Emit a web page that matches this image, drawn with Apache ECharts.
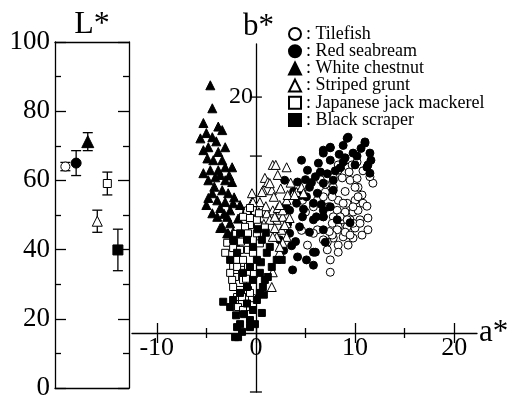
<!DOCTYPE html>
<html>
<head>
<meta charset="utf-8">
<script src="https://cdn.jsdelivr.net/npm/echarts@6/dist/echarts.min.js"></script>
<style>
  html, body { margin: 0; padding: 0; background: #fff; }
  #chart { width: 508px; height: 398px; }
</style>
</head>
<body>
<div id="chart"></div>
<script>
// species, in legend order
const species = ['Tilefish', 'Red seabream', 'White chestnut', 'Striped grunt', 'Japanese jack mackerel', 'Black scraper']

// L* panel: position along the panel, mean, and error
const lPos = [0.98, 2.0, 3.1, 4.0, 4.95, 5.95]
const lMean = [64, 65, 71.2, 48.2, 59.1, 39.9]
const lErr = [1.2, 3.6, 2.6, 3.2, 3.3, 6]

// a*, b* scatter values
const tilefish = [[8.3,8.5],[9.3,8.1],[10.2,9],[11.8,5.4],[7.8,6.4],[8.7,6.3],[9.5,5.9],[10.3,4.7],[10.7,3.4],[10,2.5],[9.2,2],[8.3,2.5],[7.7,3.1],[7,3.9],[6.2,2.5],[7.3,1.4],[8.2,0.8],[9,0.5],[9.8,0.5],[10.3,0.8],[11.3,-0.5],[10.5,-0.8],[9.5,-0.8],[8.7,-0.8],[7.8,-0.3],[6.8,-0.3],[8.3,-2],[9.2,-2],[10,-2.2],[10.7,-3.4],[9.8,-3.9],[8.8,-3.7],[7.8,-3.9],[7.2,-4.6],[8.3,-5.1],[9.3,-5.1],[6.2,-2.5],[5.2,-5.1],[7.2,-5.9],[8.3,-6.3],[7.5,-7.6],[4.7,2.5],[7.5,-9.7],[5.8,-3.1],[9.4,7.3],[8.3,7.6],[7.8,4.7],[10,4.7],[10.3,3.1],[8.8,2],[6.8,3.1],[5.8,1.4],[9.8,1.4],[8.5,-0.3],[9.2,-0.8],[9.8,-1.4],[10.5,-1.4],[7.7,-1.4],[8.2,-2.5],[9,-2.9],[9.5,-3.4],[7.7,-3.4],[6.8,-4.2],[6.5,6],[7,5.2],[9,4],[10.8,2],[11.5,6.5],[10.8,7.5],[9.7,8.5],[11.2,1.5],[4.6,-2.6],[5,0.5],[11.3,-2.5],[10.2,6.2],[7.4,-2.8]]
const redSeabream = [[9.3,13.2],[11,12.4],[7.5,11.4],[6.8,10.5],[9.8,10.5],[11.5,10.5],[4.6,9.3],[9,9.7],[7.5,9.3],[6.3,8.8],[5.2,7.6],[6.5,7.3],[8.5,8],[11.2,8.1],[11.5,7.1],[2.9,5.9],[4.2,5.6],[5.4,4.7],[6.8,5.4],[7.8,5.9],[6.2,3.7],[5.1,3.1],[4.1,2],[3.4,0.8],[5.8,2],[6.8,0.8],[7.5,1.4],[4.7,-0.3],[5.8,-0.8],[6.8,-0.3],[4.4,-2],[5.4,-2.9],[3.4,-3.1],[2.4,-4.2],[7,-4.6],[5.8,-6.3],[4.2,-7.1],[5.1,-7.6],[3.7,-9.3],[6,-6.3],[5.8,-8.5],[6.8,11],[7.5,11.5],[9.2,13],[11,12.2],[11.3,8.5],[8.2,-0.8],[9.5,-1.3],[6.1,-0.3],[6.8,-2.5],[3,1.5],[3.8,4],[5,6],[6,6.5],[7.2,7],[8,7.5],[8.8,9],[10.2,10],[10.6,11.3],[7.8,4.2],[6.6,1.8],[4.8,1],[3.2,-1.5],[4,-4.5],[2.8,-6],[8.8,11.8],[10,8.5],[11.6,9.3],[4.5,3.3],[5.6,5.5],[8.4,10.3],[3.6,-5.2]]
const whiteChestnut = [[-4.6,22],[-4.4,18.1],[-5.3,15.6],[-5,13.9],[-3.8,15],[-3.4,14.4],[-4.4,13.2],[-4.8,11.5],[-5.3,11],[-3.1,11.5],[-3.8,10.7],[-4.3,9.3],[-3.4,9.3],[-2.4,8.1],[-5.3,7.1],[-4.6,7.6],[-3.8,7.6],[-3.1,8.1],[-4.1,6.4],[-3.1,5.9],[-2.4,5.6],[-4.8,5.9],[-4.4,3.7],[-3.4,4.2],[-2.8,3.7],[-4.8,2.9],[-3.9,2.5],[-3.1,2.2],[-2.3,2],[-3.6,1.2],[-2.6,0.8],[-1.6,1.7],[-3.9,-0.3],[-2.9,-0.3],[-3.4,-2],[-2.6,-1.4],[-2.9,-3.1],[-2.3,-2.9],[-4.4,0.3],[-3.6,-2.2],[-2.8,-3.1],[-2.4,-4.2],[-5,1.7],[-4,12.5],[-3.6,6.8],[-4.2,4.8],[-2.2,3],[-1.8,-0.6],[-1.2,-2.5],[-2,-4.8],[-3.2,0.2],[-5.6,13],[-4.9,9.6],[-2.7,6.7]]
const stripedGrunt = [[1.7,8.5],[2,8.5],[3.1,8.1],[0.9,6.3],[1.2,5.6],[0.7,4.2],[1.6,4.2],[-0.4,3.7],[1.8,3.1],[0.4,2.2],[-0.4,2.2],[4.1,3.9],[4.6,4.7],[3.7,3.4],[3.1,2.5],[2.4,1.2],[1.7,0.8],[1.1,0.3],[2.7,-0.3],[2.1,-0.8],[1.4,-0.8],[3.1,-1.4],[2.6,-2.5],[3.1,-3.7],[2.1,-3.7],[2.7,-4.7],[2.4,-6.3],[1.7,-9.7],[1.6,-12.2],[3.2,3.4],[3.9,3.4],[2.2,1.2],[2.7,0.8],[4.8,3.7],[1.9,-0.3],[2.9,-1.7],[1.7,-3.7],[2.4,-5.4],[0.6,3.9],[1.4,5.4],[-0.3,2.2],[2.4,1.7],[2.5,4.5],[3.5,5.5],[1,1.5],[0.3,0.5],[3.4,-0.5],[1.9,-2.2],[0.8,-1.5],[2.2,6.8]]
const jackMackerel = [[-0.6,1.2],[-1.3,-0.3],[-0.6,-1.7],[0.2,-1.7],[0.9,-2.2],[0.1,-3.1],[-0.9,-3.7],[-2.9,-4.7],[-3.1,-6.4],[-2.3,-5.6],[-1.6,-5.9],[-0.8,-5.9],[-0.3,-6.4],[-1.9,-7.6],[-1.3,-7.6],[-2.3,-8.8],[-1.4,-9.3],[-0.8,-8.8],[-2.1,-10.5],[-1.3,-11],[-2.3,-12.2],[-1.6,-12.7],[-0.8,-12.7],[-1.9,-13.9],[-0.4,-14.1],[-1.4,-14.9],[-0.9,-15.6],[-1.1,-2],[0.1,-0.8],[0.9,-2.1],[-0.6,-0.5],[-0.8,-3.1],[-1.9,-8.8],[-2.4,-11],[-1.4,-13.9],[-0.6,-13.2],[-1.8,-15.6],[-1.3,-16.1],[0.3,0.3],[-2,-3.2],[-1.5,-4.5],[0.4,-4.8],[-0.2,-10],[-2.6,-9.8],[-1,-10.8]]
const blackScraper = [[0.6,-16.6],[-3.3,-14.7],[2.6,-7.6],[0.9,-11],[-1.9,-19],[-1.8,-20.7],[-1.4,-19.8],[-0.6,-17.8],[-0.3,-16.1],[0.1,-14.4],[0.4,-13.2],[0.7,-12.2],[1.2,-10.5],[1.6,-8.8],[2.1,-7.6],[0.4,-9.8],[-0.3,-11],[-0.9,-12.2],[-1.6,-13.2],[-2.3,-14.4],[-2.6,-15.6],[0.1,-7.6],[-0.6,-8.8],[-1.3,-9.8],[-1.9,-6.4],[-2.6,-7.6],[-0.3,-5.4],[0.6,-4.2],[1.4,-5.4],[1.1,-6.4],[-0.9,-4.2],[-1.6,-3.1],[-2.3,-4.2],[-2.1,-20.7],[-1.6,-18.5],[-0.6,-19],[-0.9,-15],[0.8,-13.5],[1,-3],[0.2,-2.4],[-1.2,-16.8],[-0.1,-18.5],[0.5,-8],[-2,-17]]
const scatterData = [tilefish, redSeabream, whiteChestnut, stripedGrunt, jackMackerel, blackScraper]

// tick values
const aTicks = [-10, 0, 10, 20]
const aMinorTicks = [-5, 5, 15]
const bTicks = [-30, -10, 0, 10, 20]
const bLabels = [0, 20]

const font = 'Liberation Serif'
const marks = [
    { symbol: 'circle', fill: '#fff', size: 8, lSize: 9 },
    { symbol: 'circle', fill: '#000', size: 8, lSize: 10 },
    { symbol: 'triangle', fill: '#000', size: 9, lSize: 12 },
    { symbol: 'triangle', fill: '#fff', size: 9, lSize: 10 },
    { symbol: 'rect', fill: '#fff', size: 7, lSize: 8 },
    { symbol: 'rect', fill: '#000', size: 7, lSize: 10 }
]

const noLine = { show: false }
const black = '#000'

function hiddenAxis (gridIndex, min, max) {
    return { type: 'value', gridIndex, min, max, show: false, splitLine: noLine }
}

function aAxis (values, len, inside, withLabel) {
    return {
        type: 'value', gridIndex: 2, min: -12.5, max: 22.3, position: 'bottom',
        axisLine: { show: withLabel, onZero: false, lineStyle: { color: black, width: 1.3 } },
        axisTick: { show: true, inside, length: len, customValues: values, lineStyle: { color: black, width: 1.3 } },
        axisLabel: { show: withLabel, customValues: values, color: black, fontFamily: font, fontSize: 26, margin: 2 },
        splitLine: noLine,
        name: withLabel ? 'a*' : '',
        nameLocation: 'end',
        nameGap: 2,
        nameTextStyle: { color: black, fontFamily: font, fontSize: 31 }
    }
}

function lAxis (position, withLabel) {
    return {
        type: 'value', gridIndex: 0, min: 0, max: 100, interval: 20, position,
        axisLine: { show: true, onZero: false, lineStyle: { color: black, width: 1.3 } },
        axisTick: { show: true, inside: true, length: 11, lineStyle: { color: black, width: 1.3 } },
        minorTick: { show: true, splitNumber: 2, length: 6, lineStyle: { color: black, width: 1.3 } },
        axisLabel: { show: withLabel, color: black, fontFamily: font, fontSize: 27, margin: 5 },
        splitLine: noLine,
        minorSplitLine: noLine
    }
}

// b* axis sits at a* = 0; offset is set after layout from the a* scale
const bAxis = {
    type: 'value', gridIndex: 1, min: -30, max: 29, position: 'left', offset: 0,
    axisLine: { show: true, onZero: false, lineStyle: { color: black, width: 1.3 } },
    axisTick: noLine,
    axisLabel: { show: true, customValues: bLabels, color: black, fontFamily: font, fontSize: 24, margin: 3 },
    splitLine: noLine,
    name: 'b*',
    nameLocation: 'end',
    nameGap: 2,
    nameTextStyle: { color: black, fontFamily: font, fontSize: 31, align: 'left', padding: [0, 0, 0, -13] }
}

const frameAxis = (position, name) => ({
    type: 'value', gridIndex: 0, min: 0, max: 7, position,
    axisLine: { show: true, onZero: false, lineStyle: { color: black, width: 1.3 } },
    axisTick: noLine, axisLabel: noLine, splitLine: noLine,
    name, nameLocation: 'middle', nameGap: 1,
    nameTextStyle: { color: black, fontFamily: font, fontSize: 32, verticalAlign: 'bottom' }
})

const series = []
species.forEach((name, i) => {
    const m = marks[i]
    series.push({
        name, type: 'scatter', xAxisIndex: 2, yAxisIndex: 2,
        symbol: m.symbol, symbolSize: m.size,
        itemStyle: { color: m.fill, borderColor: black, borderWidth: 1, opacity: 1 },
        data: scatterData[i], z: 3
    })
})
species.forEach((name, i) => {
    const m = marks[i]
    series.push({
        name, type: 'scatter', xAxisIndex: 0, yAxisIndex: 0,
        symbol: m.symbol, symbolSize: m.lSize,
        itemStyle: { color: m.fill, borderColor: black, borderWidth: 1, opacity: 1 },
        data: [[lPos[i], lMean[i]]], z: 4
    })
})
// error bars of the L* panel
series.push({
    type: 'custom', xAxisIndex: 0, yAxisIndex: 0, z: 2, silent: true,
    data: lPos.map((x, i) => [x, lMean[i] - lErr[i], lMean[i] + lErr[i]]),
    renderItem (params, api) {
        const top = api.coord([api.value(0), api.value(2)])
        const bot = api.coord([api.value(0), api.value(1)])
        const w = 5
        const st = { stroke: black, lineWidth: 1.3 }
        return {
            type: 'group',
            children: [
                { type: 'line', shape: { x1: top[0], y1: top[1], x2: bot[0], y2: bot[1] }, style: st },
                { type: 'line', shape: { x1: top[0] - w, y1: top[1], x2: top[0] + w, y2: top[1] }, style: st },
                { type: 'line', shape: { x1: bot[0] - w, y1: bot[1], x2: bot[0] + w, y2: bot[1] }, style: st }
            ]
        }
    }
})
// ticks across the b* axis
series.push({
    type: 'custom', xAxisIndex: 2, yAxisIndex: 2, z: 1, silent: true, clip: false,
    data: bTicks.map(v => [0, v]),
    renderItem (params, api) {
        const p = api.coord([api.value(0), api.value(1)])
        return {
            type: 'line',
            shape: { x1: p[0] - 6, y1: p[1], x2: p[0] + 6, y2: p[1] },
            style: { stroke: black, lineWidth: 1.3 }
        }
    }
})

const chart = echarts.init(document.getElementById('chart'), null, { renderer: 'canvas' })
chart.setOption({
    animation: false,
    backgroundColor: '#fff',
    textStyle: { fontFamily: font, color: black },
    grid: [
        { left: 55, top: 42, width: 74, height: 346, outerBoundsMode: 'none' },
        { left: 132, top: 44, width: 345, height: 348, outerBoundsMode: 'none' },
        { left: 132, top: 44, width: 345, height: 289, outerBoundsMode: 'none' }
    ],
    legend: {
        data: species,
        orient: 'vertical',
        left: 283,
        top: 20,
        itemWidth: 12,
        itemHeight: 12,
        itemGap: -0.8,
        selectedMode: false,
        formatter: ': {name}',
        textStyle: { color: black, fontFamily: font, fontSize: 18 }
    },
    xAxis: [
        frameAxis('bottom', ''),
        frameAxis('top', 'L*'),
        hiddenAxis(1, -12.5, 22.3),
        aAxis(aTicks, 10, true, true),
        aAxis(aTicks, 10, false, false),
        aAxis(aMinorTicks, 5, true, false),
        aAxis(aMinorTicks, 5, false, false)
    ],
    yAxis: [
        lAxis('left', true),
        lAxis('right', false),
        bAxis,
        hiddenAxis(2, 0, 1)
    ],
    series
})

// move the b* axis onto a* = 0 using the a* scale
const leftPx = chart.convertToPixel({ xAxisIndex: 2 }, -12.5)
const zeroPx = chart.convertToPixel({ xAxisIndex: 2 }, 0)
chart.setOption({ yAxis: [{}, {}, { offset: leftPx - zeroPx }, {}] })
</script>
</body>
</html>
